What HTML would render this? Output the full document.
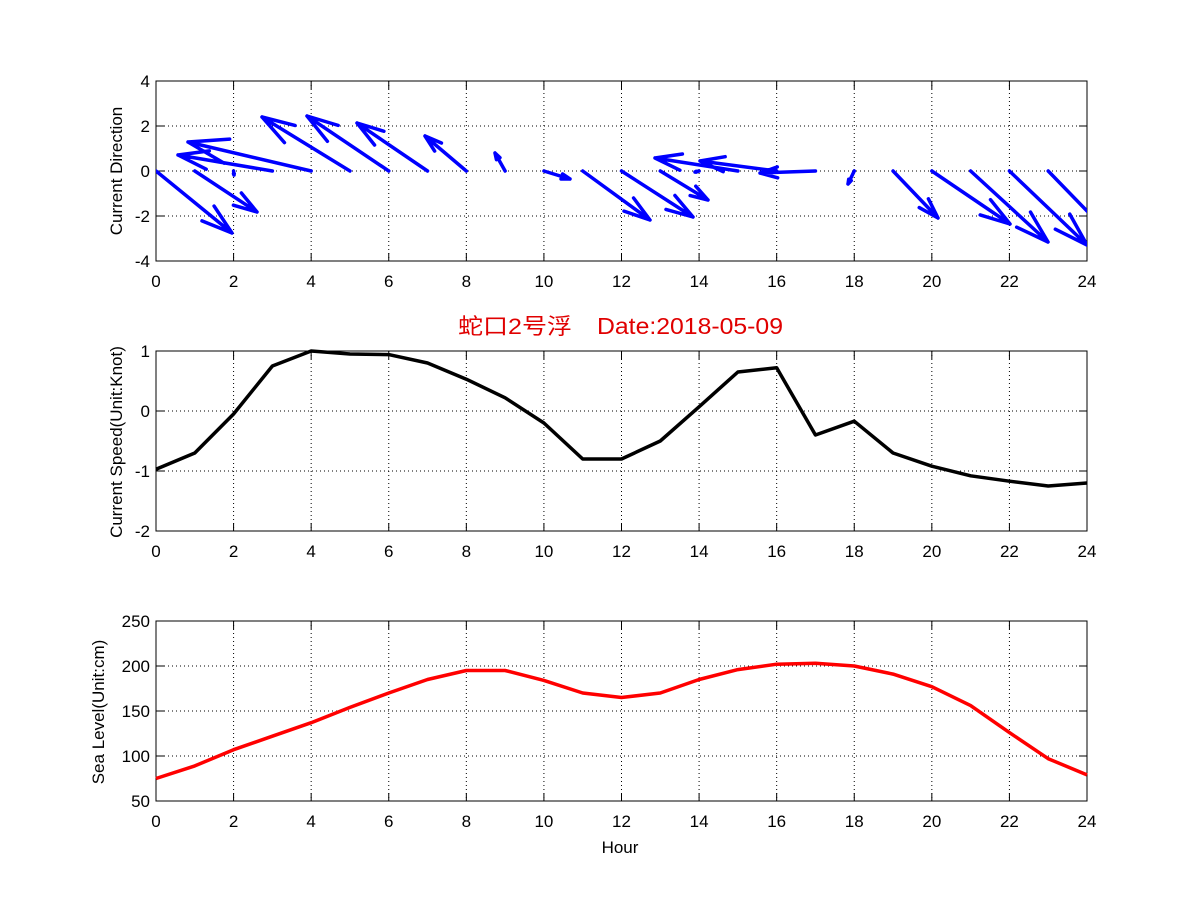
<!DOCTYPE html>
<html><head><meta charset="utf-8"><style>
html,body{margin:0;padding:0;background:#fff;}
svg{display:block;font-family:"Liberation Sans","Noto Sans CJK SC",sans-serif;}
.t{font-size:17px;fill:#000;}
</style></head><body>
<svg id="s" width="1201" height="901" viewBox="0 0 1201 901" xmlns="http://www.w3.org/2000/svg">
<rect width="1201" height="901" fill="#fff"/>
<g id="grid" stroke="#000" stroke-width="1" stroke-dasharray="1,3" fill="none"></g>
<g id="axes" stroke="#000" stroke-width="1" fill="none"></g>
<g id="data"></g>
<g id="labels" class="t">
<text x="116" y="177" text-anchor="middle" transform="rotate(-90 116 171)">Current Direction</text>
<text x="116" y="448" text-anchor="middle" transform="rotate(-90 116 442)">Current Speed(Unit:Knot)</text>
<text x="98" y="718" text-anchor="middle" transform="rotate(-90 98 712)">Sea Level(Unit:cm)</text>
<text x="620" y="853" text-anchor="middle">Hour</text>
<text x="458" y="334" textLength="114" lengthAdjust="spacingAndGlyphs" style="fill:#e00000;font-size:22px">蛇口2号浮</text>
<text x="597" y="334" textLength="186" lengthAdjust="spacingAndGlyphs" style="fill:#e00000;font-size:23px">Date:2018-05-09</text>
</g>
<g id="ticks" class="t"></g>
</svg>
<script>
var NS="http://www.w3.org/2000/svg";
function el(p,n,a,txt){var e=document.createElementNS(NS,n);for(var k in a)e.setAttribute(k,a[k]);if(txt!==undefined)e.textContent=txt;document.getElementById(p).appendChild(e);return e;}
var x0=156,x1=1087;function X(h){return x0+(x1-x0)*h/24;}
var panels=[{t:81,b:261,ymin:-4,ymax:4,step:2},{t:351,b:531,ymin:-2,ymax:1,step:1},{t:621,b:801,ymin:50,ymax:250,step:50}];
panels.forEach(function(p){
 function Y(v){return p.b-(p.b-p.t)*(v-p.ymin)/(p.ymax-p.ymin);}
 for(var h=0;h<=24;h+=2){var x=X(h);
  if(h>0&&h<24)el('grid','line',{x1:x,y1:p.t,x2:x,y2:p.b});
  el('axes','line',{x1:x,y1:p.b,x2:x,y2:p.b-8});el('axes','line',{x1:x,y1:p.t,x2:x,y2:p.t+8});
  el('ticks','text',{x:x,y:p.b+26,'text-anchor':'middle'},String(h));}
 for(var v=p.ymin;v<=p.ymax;v+=p.step){var y=Y(v);
  if(v>p.ymin&&v<p.ymax)el('grid','line',{x1:x0,y1:y,x2:x1,y2:y});
  el('axes','line',{x1:x0,y1:y,x2:x0+8,y2:y});el('axes','line',{x1:x1,y1:y,x2:x1-8,y2:y});
  el('ticks','text',{x:x0-6,y:y+6,'text-anchor':'end'},String(v));}
 el('axes','rect',{x:x0,y:p.t,width:x1-x0,height:p.b-p.t});
 p.Y=Y;
});
var sp=[-0.97,-0.7,-0.05,0.75,1.0,0.95,0.94,0.8,0.53,0.22,-0.2,-0.8,-0.8,-0.5,0.07,0.65,0.72,-0.4,-0.17,-0.7,-0.92,-1.08,-1.17,-1.25,-1.2];
var sl=[75,89,107,122,137,154,170,185,195,195,184,170,165,170,185,196,202,203,200,191,177,156,126,97,79];
function poly(arr,p,c){el('data','polyline',{points:arr.map(function(v,i){return X(i)+','+p.Y(v)}).join(' '),fill:'none',stroke:c,'stroke-width':3.5,'stroke-linejoin':'round'});}
poly(sp,panels[1],'#000');poly(sl,panels[2],'#f00');
var tips={0:[232,233],1:[257,212],2:[234,175],3:[178,155],4:[188,142],5:[262,117],6:[307,116],7:[357,123],8:[425,136],9:[495,153],10:[570,179],11:[650,220],12:[693,217],13:[708,200],14:[695,172],15:[655,158],16:[700,161],17:[760,173],18:[848,184],19:[938,218],20:[1010,224],21:[1048,242],22:[1087,245],23:[1120,245]};
var d='';
for(var h in tips){var bx=X(+h),by=171,tx=tips[h][0],ty=tips[h][1];
 var dx=tx-bx,dy=ty-by,L=Math.sqrt(dx*dx+dy*dy);if(L<1)continue;var ux=dx/L,uy=dy/L;
 d+='M'+bx+','+by+'L'+tx+','+ty;
 var hl=0.33*L,a=0.3;
 for(var s=-1;s<=1;s+=2){var c=Math.cos(a),sn=Math.sin(a*s);
  var rx=-(ux*c-uy*sn),ry=-(ux*sn+uy*c);
  d+='M'+tx+','+ty+'L'+(tx+rx*hl)+','+(ty+ry*hl);}
}
var cp=el('data','clipPath',{id:'cp'});var r=document.createElementNS(NS,'rect');r.setAttribute('x',x0);r.setAttribute('y',81);r.setAttribute('width',x1-x0);r.setAttribute('height',180);cp.appendChild(r);
el('data','path',{d:d,stroke:'#0000ff','stroke-width':3.5,fill:'none','stroke-linecap':'round','clip-path':'url(#cp)'});
</script>
</body></html>
